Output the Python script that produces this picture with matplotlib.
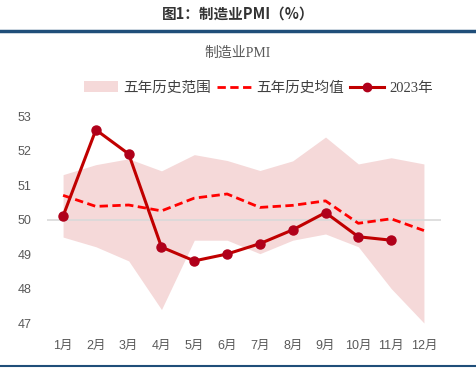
import matplotlib
matplotlib.use("Agg")
import matplotlib.pyplot as plt
from matplotlib.patches import Patch
from matplotlib.lines import Line2D

plt.rcParams['font.family'] = ['Liberation Serif', 'Noto Sans CJK SC', 'DejaVu Sans']

months = ['1月', '2月', '3月', '4月', '5月', '6月', '7月', '8月', '9月', '10月', '11月', '12月']
range_high = [51.30, 51.59, 51.76, 51.41, 51.88, 51.71, 51.42, 51.70, 52.39, 51.61, 51.79, 51.61]
range_low = [49.49, 49.21, 48.80, 47.39, 49.40, 49.40, 49.01, 49.40, 49.58, 49.21, 48.00, 47.00]
hist_mean = [50.70, 50.38, 50.42, 50.25, 50.62, 50.74, 50.35, 50.41, 50.54, 49.89, 50.02, 49.68]
pmi_2023 = [50.1, 52.6, 51.9, 49.2, 48.8, 49.0, 49.3, 49.7, 50.2, 49.5, 49.4]
yticks = [47, 48, 49, 50, 51, 52, 53]

W, H = 476, 369
fig = plt.figure(figsize=(W / 100, H / 100), dpi=100)

# header
fig.text(0.5, 1 - 14 / H, '图1：制造业PMI（%）', ha='center', va='center',
         fontsize=10.5, fontweight='bold', color='#333333',
         family=['Noto Sans CJK SC', 'DejaVu Sans'])
fig.add_artist(Line2D([0, 1], [1 - 31 / H, 1 - 31 / H], color='#1f4e79', lw=2.5,
                      transform=fig.transFigure))
fig.add_artist(Line2D([0, 1], [1 - 366 / H, 1 - 366 / H], color='#1f4e79', lw=1.5,
                      transform=fig.transFigure))
fig.text(0.5, 1 - 53 / H, '制造业PMI', ha='center', va='center', fontsize=10,
         color='#595959')

ax = fig.add_axes([47 / W, 1 - 323 / H, (441 - 47) / W, (323 - 116) / H])
x = list(range(len(months)))
ax.fill_between(x, range_low, range_high, color='#f5d9d9', lw=0, zorder=1)
ax.axhline(50, color='#d9d9d9', lw=1.2, zorder=2)
ax.plot(x, hist_mean, color='#ff0000', lw=2, ls=(0, (3, 1.6)), zorder=3)
ax.plot(x[:len(pmi_2023)], pmi_2023, color='#c00000', lw=2.2, marker='o',
        markersize=6.5, markerfacecolor='#b0001a', markeredgecolor='#b0001a', zorder=4)

ax.set_xlim(-0.49, 11.52)
ax.set_ylim(47, 53)
ax.set_yticks(yticks)
ax.set_yticklabels([str(v) for v in yticks], family=['Liberation Sans', 'DejaVu Sans'])
ax.set_xticks(x)
ax.set_xticklabels(months, family=['Liberation Sans', 'Noto Sans CJK SC'])
ax.tick_params(axis='both', length=0, colors='#595959', labelsize=9)
ax.tick_params(axis='x', pad=12)
ax.tick_params(axis='y', pad=11)
for s in ax.spines.values():
    s.set_visible(False)

handles = [Patch(facecolor='#f5d9d9', edgecolor='none'),
           Line2D([], [], color='#ff0000', lw=2, ls=(0, (3, 1.6))),
           Line2D([], [], color='#c00000', lw=2.2, marker='o', markersize=6,
                  markerfacecolor='#b0001a', markeredgecolor='#b0001a')]
labels = ['五年历史范围', '五年历史均值', '2023年']
fig.legend(handles, labels, loc='center', bbox_to_anchor=(258.5 / W, 1 - 88 / H), ncol=3,
           frameon=False, fontsize=10.5, handlelength=2.3, columnspacing=0.45,
           handletextpad=0.35, labelcolor='#404040')

fig.savefig('out.png', dpi=100)
